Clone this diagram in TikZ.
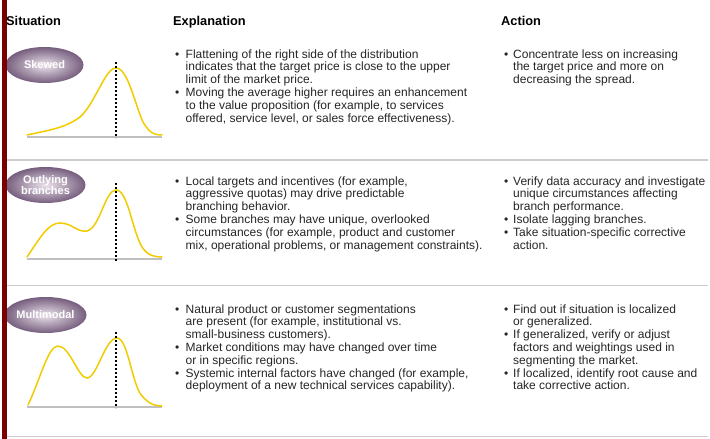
\documentclass[tikz,border=0pt]{standalone}
\usepackage{fontspec}
\setmainfont{Liberation Sans}
\usetikzlibrary{shapes.geometric}
\definecolor{barred}{RGB}{122,0,0}
\definecolor{curveyel}{RGB}{242,204,0}
\definecolor{sepgray}{RGB}{205,205,205}
\definecolor{basegray}{RGB}{192,192,192}
\definecolor{ellout}{RGB}{118,94,126}
\definecolor{ellin}{RGB}{236,228,236}
\definecolor{txt}{RGB}{38,38,38}
\newcommand{\bodyfont}{\fontsize{12}{12.8}\selectfont}
\newcommand{\bul}{\textbullet}
\begin{document}
\begin{tikzpicture}[x=1pt,y=-1pt,
  header/.style={font=\fontsize{12.8}{14}\selectfont\bfseries, anchor=base west, inner sep=0, text=black},
  bodytext/.style={font=\bodyfont, anchor=base west, inner sep=0, text=txt},
  badge/.style={ellipse, minimum width=78pt, minimum height=36pt, inner sep=0, inner color=ellin, outer color=ellout, text=white, font=\fontsize{11}{11.5}\selectfont\bfseries, align=center},
  sepline/.style={draw=sepgray, line width=1.2pt},
  curve/.style={draw=curveyel, line width=1.5pt, line cap=round},
  axisline/.style={draw=basegray, line width=1.3pt},
  meanline/.style={draw=black, line width=1.1pt, dash pattern=on 2pt off 2pt}]

\useasboundingbox (0,0) rectangle (710,439);
\fill[white] (0,0) rectangle (710,439);

% separators
\coordinate (s1a) at (7,160); \coordinate (s1b) at (708,160);
\coordinate (s2a) at (7,285.5); \coordinate (s2b) at (708,285.5);
\coordinate (s3a) at (7,436.5); \coordinate (s3b) at (708,436.5);
\draw[sepline] (s1a) -- (s1b);
\draw[sepline] (s2a) -- (s2b);
\draw[sepline] (s3a) -- (s3b);

% headers
\node[header] (hsit) at (6,25.5) {Situation};
\node[header] (hexp) at (173,25.5) {Explanation};
\node[header] (hact) at (501,25.5) {Action};

% badges
\node[badge] (bskew) at (44.5,65) {Skewed};
\node[badge, minimum width=80pt] (bout) at (45.5,185) {Outlying\\branches};
\node[badge, minimum width=80pt] (bmulti) at (45.5,315) {Multimodal};

% row 1 chart
\coordinate (a1l) at (27,137); \coordinate (a1r) at (162,137);
\draw[axisline] (a1l) -- (a1r);
\draw[curve] (27,135) .. controls (50,130) and (65,128) .. (80,117)
  .. controls (95,104) and (105,68) .. (116,68)
  .. controls (128,68) and (135,105) .. (143,122)
  .. controls (150,134) and (155,135) .. (162,135);
\coordinate (m1t) at (116,62); \coordinate (m1b) at (116,138);
\draw[meanline] (m1t) -- (m1b);

% row 2 chart
\coordinate (a2l) at (27,259); \coordinate (a2r) at (162,259);
\draw[axisline] (a2l) -- (a2r);
\draw[curve] (27,257) .. controls (40,238) and (48,223) .. (60,223)
  .. controls (72,223) and (78,233) .. (87,231)
  .. controls (100,228) and (105,190) .. (116,190)
  .. controls (128,190) and (132,230) .. (142,247)
  .. controls (148,256) and (155,257) .. (162,257);
\coordinate (m2t) at (116,183); \coordinate (m2b) at (116,261);
\draw[meanline] (m2t) -- (m2b);

% row 3 chart
\coordinate (a3l) at (27,407); \coordinate (a3r) at (162,407);
\draw[axisline] (a3l) -- (a3r);
\draw[curve] (28,405) .. controls (40,380) and (48,346) .. (58,346)
  .. controls (70,346) and (78,378) .. (87,378)
  .. controls (97,378) and (105,338) .. (117,338)
  .. controls (128,338) and (132,385) .. (142,396)
  .. controls (150,405) and (156,406) .. (162,406);
\coordinate (m3t) at (116,332); \coordinate (m3b) at (116,408);
\draw[meanline] (m3t) -- (m3b);

% texts row 1
\node[bodytext] (e1) at (175,58) {\begin{tabular}[t]{@{}p{10.5pt}@{}l@{}}
\bul & Flattening of the right side of the distribution\\
 & indicates that the target price is close to the upper\\
 & limit of the market price.\\
\bul & Moving the average higher requires an enhancement\\
 & to the value proposition (for example, to services\\
 & offered, service level, or sales force effectiveness).
\end{tabular}};
\node[bodytext] (x1) at (504,58) {\begin{tabular}[t]{@{}p{9pt}@{}l@{}}
\bul & Concentrate less on increasing\\
 & the target price and more on\\
 & decreasing the spread.
\end{tabular}};

% texts row 2
\node[bodytext] (e2) at (175,185) {\begin{tabular}[t]{@{}p{10.5pt}@{}l@{}}
\bul & Local targets and incentives (for example,\\
 & aggressive quotas) may drive predictable\\
 & branching behavior.\\
\bul & Some branches may have unique, overlooked\\
 & circumstances (for example, product and customer\\
 & mix, operational problems, or management constraints).
\end{tabular}};
\node[bodytext] (x2) at (504,185) {\begin{tabular}[t]{@{}p{9pt}@{}l@{}}
\bul & Verify data accuracy and investigate\\
 & unique circumstances affecting\\
 & branch performance.\\
\bul & Isolate lagging branches.\\
\bul & Take situation-specific corrective\\
 & action.
\end{tabular}};

% texts row 3
\node[bodytext] (e3) at (175,313) {\begin{tabular}[t]{@{}p{10.5pt}@{}l@{}}
\bul & Natural product or customer segmentations\\
 & are present (for example, institutional vs.\\
 & small-business customers).\\
\bul & Market conditions may have changed over time\\
 & or in specific regions.\\
\bul & Systemic internal factors have changed (for example,\\
 & deployment of a new technical services capability).
\end{tabular}};
\node[bodytext] (x3) at (504,313) {\begin{tabular}[t]{@{}p{9pt}@{}l@{}}
\bul & Find out if situation is localized\\
 & or generalized.\\
\bul & If generalized, verify or adjust\\
 & factors and weightings used in\\
 & segmenting the market.\\
\bul & If localized, identify root cause and\\
 & take corrective action.
\end{tabular}};

% left bar
\fill[barred] (2,0) rectangle (7,439);
\end{tikzpicture}
\end{document}
